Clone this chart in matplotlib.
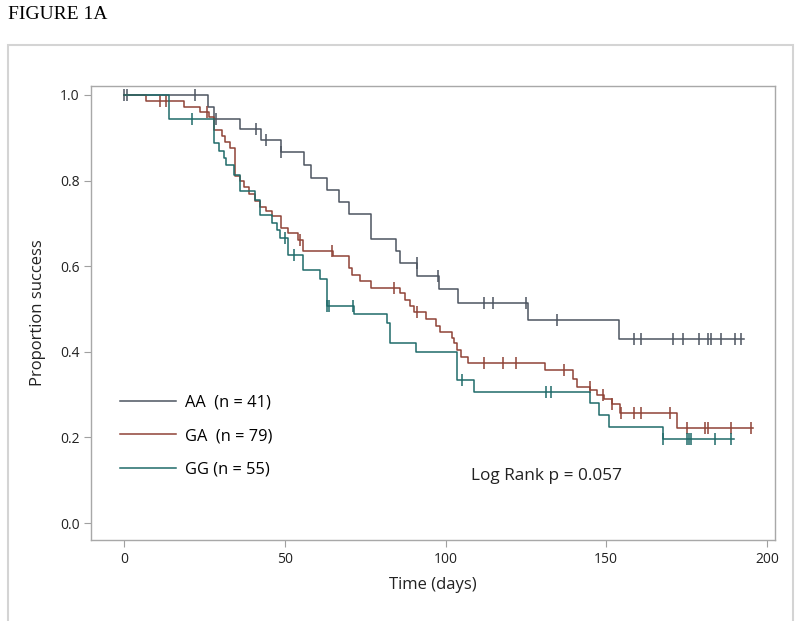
import matplotlib
matplotlib.use("Agg")
import matplotlib.pyplot as plt
from matplotlib.patches import Rectangle
from matplotlib.lines import Line2D
import numpy as np

plt.rcParams['font.family'] = ['Open Sans', 'DejaVu Sans']

# Kaplan-Meier steps: event times (days) and survival after each event
aa_t = [0, 25.9, 27.8, 35.9, 42.5, 48.7, 55.8, 58.1, 63.1, 66.9, 69.9, 76.9, 84.6, 85.9,
        91.1, 97.9, 104.0, 125.8, 154.1]
aa_s = [1.0, 0.971, 0.945, 0.920, 0.894, 0.866, 0.836, 0.807, 0.779, 0.750, 0.721, 0.664,
        0.636, 0.607, 0.577, 0.546, 0.513, 0.474, 0.431]
aa_end = 192.9
aa_cens = [0.0, 0.8, 21.9, 28.6, 41.0, 44.0, 48.7, 91.0, 97.7, 112.0, 114.9, 125.1, 134.8,
           158.8, 160.8, 170.9, 173.8, 178.8, 181.8, 182.6, 185.8, 190.1, 191.9]

ga_t = [0, 6.7, 18.5, 23.5, 26.5, 28.0, 30.5, 31.5, 33.0, 34.5, 36.0, 37.3, 38.7, 40.8,
        42.3, 44.2, 45.9, 48.7, 50.8, 54.2, 55.5, 65.0, 69.8, 70.8, 73.4, 76.8, 85.9, 87.4,
        89.0, 90.3, 94.0, 97.0, 98.3, 102.0, 102.7, 103.7, 104.8, 107.1, 131.0, 139.8,
        141.0, 145.0, 147.0, 149.4, 151.7, 154.3, 172.0]
ga_s = [1.0, 0.986, 0.973, 0.960, 0.948, 0.918, 0.905, 0.891, 0.876, 0.810, 0.800, 0.784,
        0.768, 0.752, 0.738, 0.728, 0.717, 0.689, 0.677, 0.661, 0.636, 0.624, 0.595, 0.580,
        0.565, 0.549, 0.537, 0.522, 0.507, 0.492, 0.477, 0.461, 0.446, 0.433, 0.420, 0.404,
        0.389, 0.375, 0.357, 0.337, 0.318, 0.310, 0.300, 0.290, 0.278, 0.258, 0.221]
ga_end = 195.8
ga_cens = [11.0, 13.0, 25.6, 54.8, 64.6, 84.0, 91.0, 112.0, 118.0, 122.0, 136.9, 144.8,
           148.9, 151.7, 154.5, 158.8, 160.8, 169.9, 175.1, 180.8, 181.8, 188.8, 195.0]

gg_t = [0, 13.8, 27.8, 29.4, 30.9, 31.7, 34.0, 35.9, 40.8, 42.1, 46.0, 47.5, 48.5, 50.8,
        55.6, 60.8, 63.1, 71.6, 81.9, 82.8, 90.9, 103.7, 108.9, 144.8, 147.9, 151.0, 167.6]
gg_s = [1.0, 0.944, 0.887, 0.868, 0.852, 0.836, 0.813, 0.776, 0.755, 0.720, 0.700, 0.685,
        0.665, 0.626, 0.591, 0.569, 0.507, 0.489, 0.467, 0.420, 0.399, 0.334, 0.307, 0.281,
        0.252, 0.225, 0.196]
gg_end = 189.8
gg_cens = [21.0, 50.1, 52.7, 63.1, 63.7, 71.1, 105.0, 131.3, 132.9, 167.6, 175.1, 175.7,
           176.4, 183.9, 188.8]

labels = ['AA  (n = 41)', 'GA  (n = 79)', 'GG (n = 55)']
colors = ['#4d5561', '#8f4337', '#1f6b6a']

fig = plt.figure(figsize=(8, 6.21), dpi=100)
ax = fig.add_axes([0.114, 0.1304, 0.855, 0.7311])

groups = [(aa_t, aa_s, aa_end, aa_cens), (ga_t, ga_s, ga_end, ga_cens),
          (gg_t, gg_s, gg_end, gg_cens)]
for (t, s, end, cens), col in zip(groups, colors):
    t = np.array(t + [end])
    s = np.array(s + [s[-1]])
    ax.step(t, s, where='post', color=col, lw=1.1)
    cens = np.array(cens)
    idx = np.searchsorted(t, cens, side='right') - 1
    ax.plot(cens, s[idx], ls='none', marker='|', ms=8, mew=1.1, color=col)

ax.set_xlim(-10.3, 202.6)
ax.set_ylim(-0.0397, 1.021)
ax.set_xticks([0, 50, 100, 150, 200])
ax.set_yticks([0.0, 0.2, 0.4, 0.6, 0.8, 1.0])
ax.set_yticklabels(['0.0', '0.2', '0.4', '0.6', '0.8', '1.0'])
for sp in ax.spines.values():
    sp.set_color('#a8a8a8')
    sp.set_linewidth(1.0)
ax.tick_params(colors='#a0a0a0', labelcolor='#222222', labelsize=10, length=5, width=0.8)
ax.set_xlabel('Time (days)', fontsize=12, color='#222222', labelpad=7)
ax.set_ylabel('Proportion success', fontsize=12, color='#222222', labelpad=10)

handles = [Line2D([], [], color=c, lw=1.1) for c in colors]
ax.legend(handles, labels, loc='center left', bbox_to_anchor=(0.042, 0.229),
          frameon=False, fontsize=11.8, handlelength=3.4, handletextpad=0.55,
          labelspacing=1.05, borderpad=0, borderaxespad=0)

ax.text(0.555, 0.141, 'Log Rank p = 0.057', transform=ax.transAxes, fontsize=12.4,
        color='#222222', va='center', ha='left')

fig.text(0.01, 0.976, 'FIGURE 1A', family='Liberation Serif', fontsize=14,
         va='center', ha='left', color='black')
fig.add_artist(Rectangle((0.01, -0.05), 0.981, 0.9775, transform=fig.transFigure,
                         fill=False, edgecolor='#d4d4d4', lw=1.5))

fig.savefig('out.png', dpi=100)
